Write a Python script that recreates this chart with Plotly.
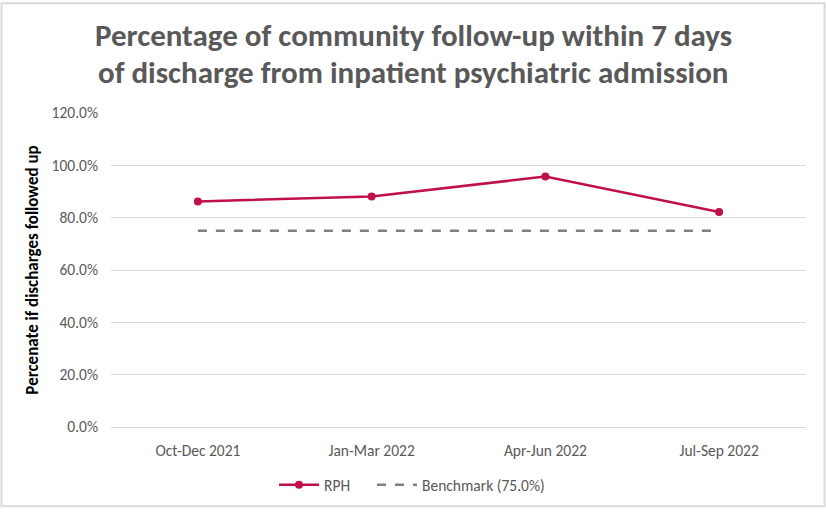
import plotly.graph_objects as go

categories = ["Oct-Dec 2021", "Jan-Mar 2022", "Apr-Jun 2022", "Jul-Sep 2022"]
rph_values = [0.862, 0.881, 0.957, 0.822]
benchmark_values = [0.75, 0.75, 0.75, 0.75]
y_ticks = [0, 0.2, 0.4, 0.6, 0.8, 1.0, 1.2]
title_lines = ["Percentage of community follow-up within 7 days",
               "of discharge from inpatient psychiatric admission"]

W, H = 826, 514
L, R, T, B = 111, 20, 113, 82
pw, ph = W - L - R, H - T - B

fig = go.Figure()
fig.add_trace(go.Scatter(
    x=categories, y=rph_values, name="RPH", mode="lines+markers",
    line=dict(color="#C0104A", width=2.5),
    marker=dict(color="#C0104A", size=8),
    legend="legend",
))
fig.add_trace(go.Scatter(
    x=categories, y=benchmark_values, name="Benchmark (75.0%)", mode="lines",
    line=dict(color="#808080", width=2.5, dash="dash"),
    legend="legend2",
))

font_main = "Carlito, Calibri, Lato, sans-serif"
leg_common = dict(orientation="h", xanchor="left", y=-59 / ph, yanchor="middle",
                  font=dict(size=15.5, color="#595959"), itemwidth=40,
                  bgcolor="rgba(0,0,0,0)")

fig.update_layout(
    width=W, height=H,
    margin=dict(l=L, r=R, t=T, b=B),
    paper_bgcolor="white", plot_bgcolor="white",
    font=dict(family=font_main, color="#595959", size=15.5),
    xaxis=dict(
        type="category", range=[-0.5, 3.5], showgrid=False,
        showline=True, linecolor="#d9d9d9", linewidth=1,
        ticks="", tickfont=dict(size=15.5, color="#595959"),
        zeroline=False, ticklabelstandoff=9,
    ),
    yaxis=dict(
        range=[0, 1.2], tickvals=y_ticks, tickformat=".1%",
        showgrid=True, gridcolor="#d9d9d9", gridwidth=1,
        zeroline=False, showline=False, ticks="",
        tickfont=dict(size=15.5, color="#595959"), ticklabelstandoff=12,
        title=dict(text="<b>Percenate if discharges followed up</b>",
                   font=dict(size=17, color="black"), standoff=8),
    ),
    legend=dict(x=(274 - L) / pw, **leg_common),
    legend2=dict(x=(372 - L) / pw, **leg_common),
    showlegend=True,
)

for line, yc in zip(title_lines, [34, 71.5]):
    fig.add_annotation(
        text=line, xref="paper", yref="paper", x=0.5 + (W / 2 - L - pw / 2) / pw,
        y=1 + (T - yc) / ph, xanchor="center", yanchor="middle", showarrow=False,
        font=dict(family=font_main, size=31, color="#595959", weight="bold"),
    )

fig.add_shape(
    type="rect", xref="paper", yref="paper",
    x0=(1.5 - L) / pw, x1=(824.5 - L) / pw,
    y0=-(512.5 - T - ph) / ph, y1=1 + (T - 1.5) / ph,
    line=dict(color="#d9d9d9", width=2), layer="below",
)

fig.write_html("out.html", config={"displayModeBar": False},
               post_script="document.body.style.margin='0';document.body.style.overflow='hidden';")
